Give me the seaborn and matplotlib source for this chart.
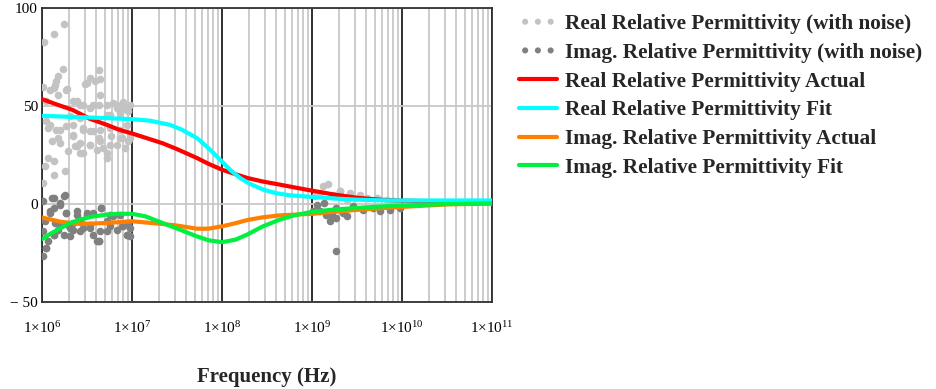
import numpy as np
import matplotlib
matplotlib.use("Agg")
import matplotlib.pyplot as plt
import seaborn as sns

# %%
# values (frequency given as log10(Hz))
# --------------------------------
real_act_logf = [6.0, 6.15, 6.34, 6.53, 6.72, 6.85, 7.0, 7.17, 7.34, 7.5, 7.72, 7.85, 8.0,
                 8.15, 8.28, 8.45, 8.64, 8.8, 9.0, 9.25, 9.5, 9.75, 10.0, 10.5, 11.0]
real_act = [53.5, 51, 48, 43.5, 40.4, 38, 36, 33.5, 31, 28, 23.5, 20.5, 17.5,
            15.2, 13.3, 11.5, 9.9, 8.5, 6.8, 4.8, 3.2, 2.2, 1.7, 1.3, 1.2]

real_fit_logf = [6.0, 6.3, 6.6, 7.0, 7.2, 7.42, 7.55, 7.72, 7.85, 7.98, 8.1, 8.2, 8.3,
                 8.46, 8.6, 8.76, 9.0, 9.25, 9.5, 9.75, 10.0, 10.5, 11.0]
real_fit = [45, 44.5, 44, 43.3, 42.5, 40.4, 38, 33.7, 28.5, 22.6, 17, 13.3, 10.5,
            7.3, 5.5, 4.4, 3.6, 2.8, 2.2, 1.9, 1.8, 1.8, 1.8]

imag_act_logf = [6.0, 6.2, 6.42, 6.72, 7.0, 7.34, 7.5, 7.72, 7.85, 8.0, 8.15, 8.28, 8.45,
                 8.64, 9.0, 9.25, 9.5, 9.75, 10.0, 10.5, 11.0]
imag_act = [-6.9, -9, -10.2, -9.7, -8.8, -10.2, -11, -12.6, -12.6, -11.4, -9.8, -8.2, -6.8,
            -5.8, -5, -4, -3, -2.2, -1.5, -0.2, 0.2]

imag_fit_logf = [6.0, 6.1, 6.2, 6.3, 6.42, 6.55, 6.72, 6.85, 7.0, 7.15, 7.34, 7.5, 7.72,
                 7.85, 8.0, 8.15, 8.28, 8.45, 8.64, 8.8, 9.0, 9.25, 9.5, 9.75, 10.0, 10.5, 11.0]
imag_fit = [-18, -15, -12.5, -10, -8, -6.5, -5.4, -5, -5, -6.3, -9.7, -12.5, -16.5,
            -18.5, -19.5, -18.2, -15.6, -11.5, -8, -5.8, -4, -2.8, -2, -1.3, -0.8, 0, 0.2]

# noisy samples
real_noise_logf = [6.02, 6.13, 6.24, 6.23, 6.18, 6.16, 6.01, 6.13, 6.28, 6.63, 6.53, 6.64,
                   6.48, 6.39, 6.46, 6.63, 6.9, 6.98, 6.83, 6.05, 6.11, 6.18, 6.2, 6.07,
                   6.13, 6.03, 6.13, 6.26, 6.01, 6.07, 6.16, 6.05, 6.27, 6.35, 6.42, 6.37,
                   6.53, 6.61, 6.68, 6.72, 6.53, 6.64, 6.76, 6.87, 6.94, 6.89, 6.96, 6.83,
                   6.77, 6.42, 6.31, 6.57, 6.79, 6.87, 6.94, 6.72, 6.46, 6.63, 6.29, 6.92,
                   6.98, 6.42,
                   6.09, 6.14, 6.27, 6.18, 6.35, 6.42, 6.53, 6.5, 6.59, 6.64, 6.72, 6.83,
                   6.9, 6.96, 6.87, 6.76, 6.35, 6.46, 6.57, 6.35, 6.2, 6.09, 6.64, 6.53,
                   6.76, 6.87, 6.98, 6.39, 6.46, 6.72,
                   9.18, 9.12, 9.31, 9.42, 9.53, 9.61, 9.72, 9.83, 9.23, 9.09, 9.03, 9.39,
                   9.9, 9.31]
real_noise = [82.5, 86.9, 91.8, 68.9, 65.2, 62.6, 59.5, 59.2, 58.8, 68.2, 64.3, 63.8,
              61.2, 52.4, 50.7, 50.7, 52, 50.7, 50.7, 52.4, 32, 33.7, 31.1, 23.5,
              21.8, 19.2, 15, 16.7, 10.7, 38.8, 37.9, 42.2, 39.6, 34.5, 31.1, 29.4,
              30.3, 27.7, 28.6, 23.5, 37.1, 37.9, 38.8, 37.9, 40.5, 33.7, 32, 30.3,
              34.5, 43.9, 44.7, 50.7, 51.5, 47.3, 48.1, 45.6, 38.8, 33.7, 26.9, 28.6,
              35.4, 26,
              58.3, 60.9, 58.3, 55.8, 52.4, 50.7, 49, 61.7, 62.6, 55.8, 50.7, 49,
              50.7, 47.3, 46.4, 45.6, 40.5, 37.9, 37.1, 35.4, 37.9, 40.5, 32, 30.3,
              30.3, 33.7, 33.7, 29.4, 26, 26,
              10.2, 9.2, 6.5, 5.6, 4.7, 3.1, 3.1, 2.2, 4.7, 5.6, 3.9, 2.2,
              1.4, 6.6]

imag_noise_logf = [6.01, 6.13, 6.24, 6.2, 6.13, 6.09, 6.03, 6.14, 6.01, 6.05, 6.01, 6.07,
                   6.27, 6.39, 6.35, 6.31, 6.46, 6.53, 6.5, 6.66, 6.63, 6.72, 6.79, 6.89,
                   6.94, 6.96, 6.83, 6.57, 6.42, 6.24, 6.18, 6.72, 6.13, 6.29, 6.61, 6.94,
                   6.11, 6.2, 6.26, 6.09, 6.27, 6.39, 6.5, 6.57, 6.66, 6.76, 6.87, 6.2,
                   6.31, 6.42, 6.53, 6.64, 6.76, 6.9, 6.98, 6.13, 6.05, 6.63, 6.35, 6.98,
                   9.16, 9.2, 9.27, 9.39, 9.09, 9.05, 9.13, 9.27, 9.46, 9.57, 9.68, 9.76,
                   9.87, 9.98, 9.27, 9.01, 9.35, 9.22]
imag_noise = [1.4, 3.1, 3.9, -0.3, -2, -4.6, -8.8, -9.7, -13.9, -22.4, -26.7, -19,
              -4.6, -5.4, -13.1, -16.5, -12.2, -10.5, -4.6, -2, -19, -13.9, -6.3, -11.4,
              -15.6, -9.7, -13.1, -15.6, -8, -15.6, -13.1, -8.8, -15.6, -10.5, -19, -16,
              3.1, 0.5, 4.7, -3.7, -4.6, -3.7, -5.4, -4.6, -2, -5.4, -5.4, -10.5,
              -12.2, -13.9, -12.2, -13.9, -11.4, -11.4, -12.2, -15.6, -22.4, -19, -9.7, -16.5,
              -5.4, -8.8, -7.1, -6.3, -3.7, -0.3, 0.5, -2, -1.2, -2.9, -2, -3.7,
              -2.9, -2, -23.8, -3.7, -4.6, -5.4]

x_ticks = [1e6, 1e7, 1e8, 1e9, 1e10, 1e11]
x_tick_labels = [r"$\mathrm{1{\times}10^{%d}}$" % e for e in range(6, 12)]
y_ticks = [-50, 0, 50, 100]
y_tick_labels = ["\u2212 50", "0", "50", "100"]

# %%
# style
# --------------------------------
sns.set_theme(style="white")
plt.rcParams["font.family"] = ["Liberation Serif", "DejaVu Serif"]
plt.rcParams["mathtext.fontset"] = "custom"
plt.rcParams["mathtext.rm"] = "Liberation Serif"
plt.rcParams["mathtext.it"] = "Liberation Serif:italic"
plt.rcParams["mathtext.bf"] = "Liberation Serif:bold"

fig = plt.figure(figsize=(9.36, 3.89), dpi=100)
ax = fig.add_axes([42 / 936, 1 - 302 / 389, 450 / 936, 294 / 389])
ax.set_xscale("log")

# %%
# plot
# --------------------------------
sns.scatterplot(x=10 ** np.array(real_noise_logf), y=real_noise, ax=ax, color="#c3c3c3",
                s=30, linewidth=0, label="Real Relative Permittivity (with noise)", zorder=3)
sns.scatterplot(x=10 ** np.array(imag_noise_logf), y=imag_noise, ax=ax, color="#808080",
                s=30, linewidth=0, label="Imag. Relative Permittivity (with noise)", zorder=3)
lw = 3.0
sns.lineplot(x=10 ** np.array(real_act_logf), y=real_act, ax=ax, color="#ff0000", lw=lw,
             label="Real Relative Permittivity Actual", zorder=4)
sns.lineplot(x=10 ** np.array(real_fit_logf), y=real_fit, ax=ax, color="#00ffff", lw=lw,
             label="Real Relative Permittivity Fit", zorder=4)
sns.lineplot(x=10 ** np.array(imag_act_logf), y=imag_act, ax=ax, color="#ff8000", lw=lw,
             label="Imag. Relative Permittivity Actual", zorder=4)
sns.lineplot(x=10 ** np.array(imag_fit_logf), y=imag_fit, ax=ax, color="#00f040", lw=lw,
             label="Imag. Relative Permittivity Fit", zorder=4)

# %%
# axes
# --------------------------------
ax.set_xlim(1e6, 1e11)
ax.set_ylim(-50, 100)
ax.set_xticks(x_ticks)
ax.set_xticklabels(x_tick_labels, fontsize=11)
ax.set_xticks([m * 10 ** e for e in range(6, 11) for m in range(2, 10)], minor=True)
ax.set_yticks(y_ticks)
ax.set_yticklabels(y_tick_labels, fontsize=11)
ax.tick_params(axis="x", which="both", length=0, pad=13, colors="black")
ax.tick_params(axis="y", length=0, pad=3, colors="black")

ax.grid(False)
ax.xaxis.grid(True, which="minor", color="#c8c8c8", lw=1.3, zorder=0)
ax.xaxis.grid(True, which="major", color="#202020", lw=1.3, zorder=1)
ax.yaxis.grid(True, which="major", color="#c8c8c8", lw=1.3, zorder=0)
ax.set_axisbelow(True)
for sp in ax.spines.values():
    sp.set_color("#303030")
    sp.set_linewidth(1.3)

ax.set_xlabel("Frequency (Hz)", fontsize=15, fontweight="bold")
ax.xaxis.set_label_coords(0.5, -0.22)
ax.set_ylabel("")

ax.legend(loc="upper left", bbox_to_anchor=(1.0406, 1.008), frameon=False,
          prop={"family": "Liberation Serif", "weight": "bold", "size": 15.3},
          scatterpoints=3, scatteryoffsets=[0.5], markerscale=0.8,
          handlelength=1.8, handletextpad=0.37, labelspacing=0.41,
          borderaxespad=0)

fig.savefig("out.png", dpi=100)
